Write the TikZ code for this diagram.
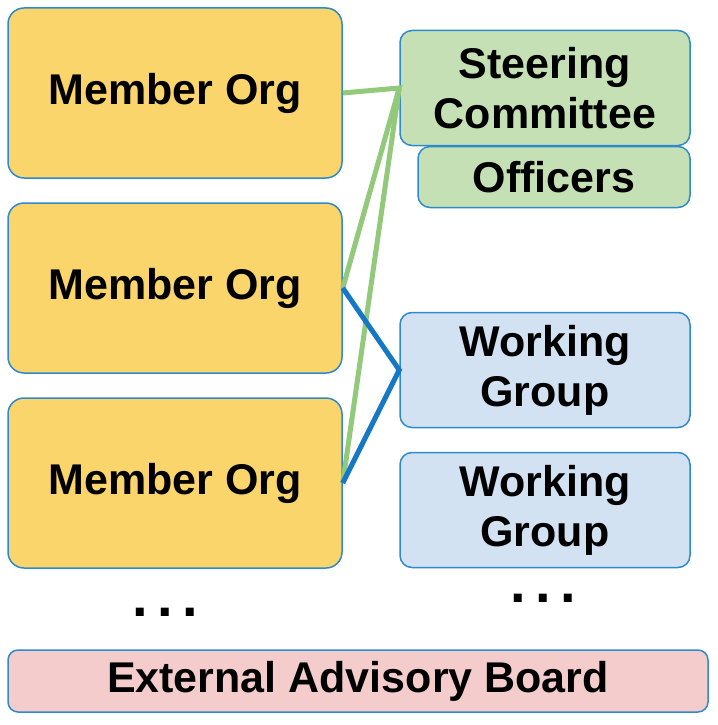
\documentclass[tikz,border=0pt]{standalone}
\usepackage{fontspec}
\setmainfont{Liberation Sans}
\definecolor{gold}{HTML}{FAD56B}
\definecolor{bord}{HTML}{2E8BCB}
\definecolor{grn}{HTML}{C5E0B4}
\definecolor{blu}{HTML}{D2E2F3}
\definecolor{pnk}{HTML}{F4CCCC}
\definecolor{gline}{HTML}{92C97A}
\definecolor{bline}{HTML}{1478C4}
\tikzset{x=1pt,y=-1pt,
 box/.style={draw=bord,line width=1.5pt,rounded corners=16pt,font=\bfseries\fontsize{43}{50}\selectfont,align=center,inner sep=0pt},
 conn/.style={line width=5pt},
 dots/.style={font=\bfseries\fontsize{56}{56}\selectfont}}
\begin{document}
\begin{tikzpicture}
\useasboundingbox (0,0) rectangle (717,725);
\node[box,fill=gold,minimum width=334pt,minimum height=170pt] (m1) at (175,93) {Member Org};
\node[box,fill=gold,minimum width=334pt,minimum height=170pt] (m2) at (175,288) {Member Org};
\node[box,fill=gold,minimum width=334pt,minimum height=170pt] (m3) at (175,483) {Member Org};
\node[box,fill=grn,rounded corners=12pt,minimum width=272pt,minimum height=61pt] (off) at (554,177) {Officers};
\node[box,fill=grn,rounded corners=12pt,minimum width=290pt,minimum height=115pt] (sc) at (545,88) {Steering\\Committee};
\node[box,fill=blu,rounded corners=12pt,minimum width=290pt,minimum height=115pt] (wg1) at (545,370) {Working\\Group};
\node[box,fill=blu,rounded corners=12pt,minimum width=290pt,minimum height=115pt] (wg2) at (545,510) {Working\\Group};
\node[box,fill=pnk,rounded corners=10pt,minimum width=700pt,minimum height=62pt] (eab) at (358,681) {External Advisory Board};
\node[dots] (d1) at (165,612) {.\,.\,.};
\node[dots] (d2) at (543,598) {.\,.\,.};
\coordinate (sj) at (sc.west);
\coordinate (wj) at (wg1.west);
\draw[conn,gline] (m1.east) -- (sj) -- (m2.east);
\draw[conn,gline] (sj) -- (m3.east);
\draw[conn,bline] (m2.east) -- (wj) -- (m3.east);
\end{tikzpicture}
\end{document}
